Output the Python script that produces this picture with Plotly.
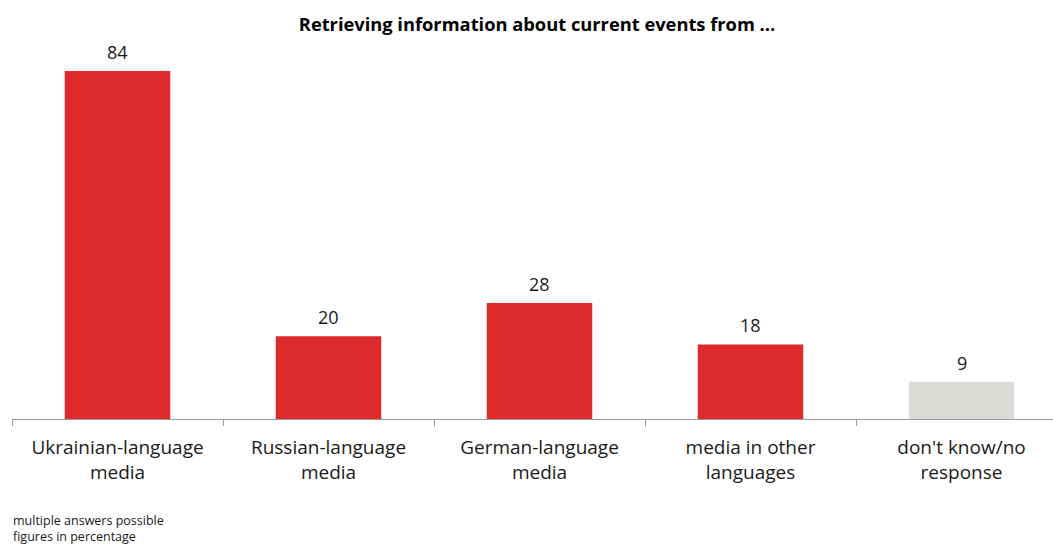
import plotly.graph_objects as go

categories = ["Ukrainian-language<br>media", "Russian-language<br>media",
              "German-language<br>media", "media in other<br>languages",
              "don't know/no<br>response"]
values = [84, 20, 28, 18, 9]
bar_colors = ["#DE2A2B", "#DE2A2B", "#DE2A2B", "#DE2A2B", "#DCDBD7"]

FONT = "Open Sans"
TEXT_COLOR = "#1a1a1a"

fig = go.Figure(go.Bar(
    x=categories,
    y=values,
    marker=dict(color=bar_colors, line=dict(width=0)),
    width=0.5,
    cliponaxis=False,
    hoverinfo="x+y",
))

# value labels above each bar
value_labels = [
    dict(x=c, y=v, text=str(v), xref="x", yref="y",
         xanchor="center", yanchor="bottom", yshift=5, showarrow=False,
         font=dict(family=FONT, size=18, color=TEXT_COLOR))
    for c, v in zip(categories, values)
]

fig.update_layout(
    width=1053, height=547,
    margin=dict(l=12, r=0, t=50, b=128),
    paper_bgcolor="white", plot_bgcolor="white",
    showlegend=False,
    title=dict(text="<b>Retrieving information about current events from ...</b>",
               x=0.51, xanchor="center", y=0.955, yanchor="middle",
               font=dict(family=FONT, size=18.3, color="#000000")),
    xaxis=dict(
        type="category",
        range=[-0.5, -0.5 + 1041 / 211],
        showgrid=False, zeroline=False,
        showline=True, linecolor="#9a9a9a", linewidth=1,
        ticks="outside", ticklen=6, tickcolor="#9a9a9a", tickson="boundaries",
        tickfont=dict(family=FONT, size=19, color=TEXT_COLOR),
        ticklabelstandoff=11,
    ),
    yaxis=dict(range=[0, 369 / 4.143], visible=False, showgrid=False, zeroline=False),
    bargap=0.5,
    annotations=value_labels + [
        dict(text="multiple answers possible<br>figures in percentage",
             xref="paper", yref="paper", x=0, y=-0.246, xshift=-1,
             xanchor="left", yanchor="top", showarrow=False, align="left",
             font=dict(family=FONT, size=12.5, color=TEXT_COLOR)),
    ],
)

fig.write_html("out.html")
